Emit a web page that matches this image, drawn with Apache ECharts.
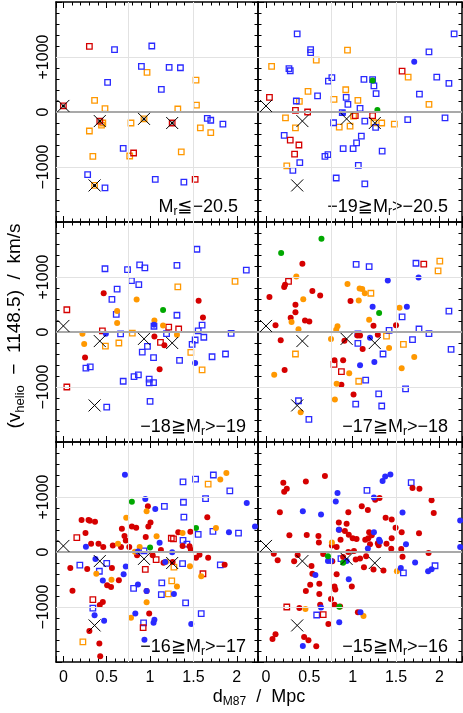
<!DOCTYPE html>
<html>
<head>
<meta charset="utf-8">
<script src="https://cdn.jsdelivr.net/npm/echarts@6/dist/echarts.min.js"></script>
<style>
    html, body { margin: 0; padding: 0; background: #fff; }
    #main { width: 463px; height: 713px; }
</style>
</head>
<body>
<div id="main"></div>
<script>
// giant ellipticals (drawn as X in every panel)
const giants = [[0, 110], [0.42, -165], [0.93, -125], [1.255, -200], [0.36, -1335]];

// panel 1: M_r <= -20.5
const p1RedSquares = [[0.30, 1195], [0.81, -745], [1.52, -1225], [0, 110], [0.42, -165], [1.255, -200]];
const p1OrangeSquares = [[0.965, 720], [1.53, 580], [0.36, 210], [0.48, 60], [1.32, 55], [1.535, 125], [0.455, -200], [0.44, -240],
    [0.78, -200], [0.30, -345], [1.58, -290], [1.70, -375], [1.36, -725], [0.34, -805], [0.765, -800], [0.36, -1335], [0.93, -125]];
const p1BlueSquares = [[0.59, 1135], [1.02, 1200], [0.90, 830], [1.22, 810], [1.35, 805], [0.51, 540], [1.13, 410], [1.66, -115],
    [1.70, -150], [1.84, -220], [0.69, -660], [0.28, -1140], [1.06, -1225], [1.39, -1275], [0.48, -1380]];

// panel 2: -19 >= M_r > -20.5
const p2RedSquares = [[0.04, 265], [0.34, 30], [0.48, 0], [0.28, -510], [0.38, -600], [0.33, -765], [1.03, -65], [1.23, -65], [1.57, 745]];
const p2OrangeSquares = [[0.065, 830], [0.58, 945], [0.94, 1125], [0.485, 375], [0.385, 195], [0.785, 230], [0.92, 405], [1.06, 210],
    [1.64, 635], [1.88, 140], [0.225, -105], [0.34, -290], [0.845, -275], [0.97, -255], [1.01, -75], [1.245, -195], [1.335, -200],
    [1.48, -220], [0.24, -980]];
const p2BlueSquares = [[0.36, 1420], [0.515, 1135], [0.515, 1080], [0.265, 790], [0.28, 750], [0.72, 560], [0.76, 625], [2.17, 1420],
    [1.88, 1095], [1.97, 635], [2.11, 520], [1.77, 325], [1.23, 590], [1.245, 475], [1.27, 335], [1.13, 595], [0.595, 295], [0.35, 200],
    [0.925, 265], [0.945, 140], [1.085, 65], [0.88, -10], [0.78, -195], [1.14, -165], [1.265, -280], [1.635, -140], [2.065, -105],
    [0.21, -425], [1.10, -440], [1.045, -560], [0.89, -665], [1.005, -665], [1.34, -710], [0.715, -775], [0.68, -805], [0.39, -920],
    [0.31, -1060], [1.065, -970], [0.81, -1200], [1.14, -1305]];
const p2BlueDots = [[1.71, 915], [0.89, -20]];
const p2GreenDots = [[1.23, 575], [1.285, 35]];

// panel 3: -18 >= M_r > -19
const p3RedSquares = [[0.04, 405], [0.04, -1000], [0.45, 20], [1.215, 90], [1.33, 55], [1.12, -190]];
const p3OrangeSquares = [[1.98, 920], [1.32, 820], [0.795, -20], [0.485, -255], [0.64, -200], [1.47, -370], [1.60, -690]];
const p3BlueSquares = [[1.54, 1505], [0.48, 1150], [0.74, 1135], [0.88, 1220], [0.94, 1165], [1.31, 1210], [2.11, 1125], [0.785, 935],
    [0.87, 860], [0.62, 780], [0.56, 595], [0.61, 320], [1.31, 305], [0.66, -35], [1.19, -30], [1.60, 125], [1.555, 20], [1.62, -95],
    [1.52, -145], [1.485, -225], [1.935, -25], [0.97, -260], [0.91, -365], [1.04, -465], [1.34, -515], [1.715, -450], [1.87, -400],
    [0.26, -655], [0.31, -635], [0.69, -895], [0.815, -810], [0.865, -780], [0.99, -855], [0.99, -925], [1.04, -920], [1.00, -1260],
    [0.50, -1365], [1.045, 105]];
const p3RedDots = [[0.465, 705], [1.56, 570], [1.61, 265], [0.25, -465], [1.05, -80], [1.165, -240], [1.11, -675]];
const p3OrangeDots = [[0.845, 590], [0.62, 380], [0.62, 165], [0.22, -30], [0.24, -220], [1.05, 210], [1.15, 120], [1.31, -50]];
const p3BlueDots = [[0.49, -30], [1.045, 130], [1.52, -565]];
const p3GreenDots = [[1.15, 400]];

// panel 4: -17 >= M_r > -18
const p4RedSquares = [[1.82, 1235], [0.26, 920], [0.785, -590], [0.87, -720]];
const p4OrangeSquares = [[2.005, 1290], [1.985, 1110], [1.21, 705], [1.39, -75], [1.585, -225], [0.34, -400], [1.07, -895]];
const p4BlueSquares = [[1.04, 1230], [1.19, 1190], [1.73, 1250], [2.11, 380], [2.135, -315], [1.57, 275], [1.42, 30], [1.765, 55],
    [1.88, -30], [1.69, -140], [1.06, -35], [1.06, -205], [1.35, -400], [1.15, -875], [1.30, -1125], [1.61, -1035], [1.035, -1310],
    [1.335, -1345], [0.375, -1250], [0.495, -1590]];
const p4RedDots = [[0.42, 1240], [0.21, 820], [0.22, 860], [0.04, 635], [0.535, 745], [0.625, 665], [0.34, 495], [0.34, 360],
    [0.285, 260], [0.45, 210], [0.50, 190], [0.11, 125], [0.17, -150], [0.215, -690], [0.975, 565], [1.24, 115], [1.50, 125],
    [1.29, -50], [1.085, -65], [1.055, -65], [0.905, -160], [1.115, -310], [0.89, -515], [0.79, -515], [0.87, -960], [1.01, -1135]];
const p4OrangeDots = [[0.35, 1010], [0.43, 595], [0.295, 180], [0.375, 50], [0.94, 875], [1.08, 790], [1.11, 780], [1.14, 705],
    [1.07, 575], [1.19, 225], [0.825, 105], [0.75, -125], [0.81, 40], [1.54, 440], [1.42, -290], [1.71, -455], [1.565, -660],
    [0.095, -775], [0.96, -750], [0.815, -940], [0.795, -1225], [0.40, -1460]];
const p4BlueDots = [[1.405, 935], [1.76, 990], [1.23, 460], [1.625, 460], [1.20, -105], [1.085, -605], [1.25, -545]];
const p4GreenDots = [[0.64, 1695], [0.175, 1435], [1.305, 345]];

// panel 5: -16 >= M_r > -17
const p5RedSquares = [[0.155, 260], [1.245, 250], [1.27, 240], [1.07, -140], [0.945, -315], [1.61, -395], [0.34, -865], [0.92, -1375]];
const p5OrangeSquares = [[1.67, 1235], [1.25, -525], [1.21, -760], [1.275, -275], [0.225, -1635]];
const p5BlueSquares = [[1.38, 1275], [1.525, 1325], [1.73, 1400], [1.92, 1110], [1.64, 970], [1.385, 905], [1.39, 635], [1.165, 830],
    [1.725, 375], [2.02, 345], [1.555, 320], [1.38, 210], [1.425, 145], [0.93, 20], [1.375, -210], [1.81, -235], [0.19, -240],
    [0.415, -350], [0.50, -205], [0.81, -660], [1.135, -560], [1.13, -775], [1.41, -925], [1.59, -1120], [0.34, -1020], [0.925, -1290]];
const p5RedDots = [[0.21, 580], [0.29, 580], [0.305, 570], [0.365, 550], [0.255, 345], [0.32, 150], [0.405, 150], [0.46, 90],
    [0.57, 120], [0.665, 90], [0.675, 425], [0.79, 465], [0.84, 440], [0.705, 290], [0.72, 210], [0.76, 90], [0.975, 830],
    [1.005, 535], [0.98, 465], [0.95, 275], [1.03, -60], [1.125, 35], [1.155, -195], [1.26, -180], [1.325, 360], [1.465, 370],
    [1.455, 105], [1.47, 40], [1.66, 630], [1.57, -50], [1.53, -105], [1.67, -105], [1.86, -230], [0.08, -290], [0.275, -310],
    [0.56, -290], [0.505, -605], [0.55, -635], [0.64, -515], [0.105, -705], [0.42, -965], [0.455, -910], [0.30, -1435],
    [0.415, -1665], [0.425, -1895], [0.99, -1120], [0.96, -710], [0.85, -60], [1.375, 110]];
const p5OrangeDots = [[1.88, 1435], [1.81, 1320], [0.725, 625], [0.96, 740], [1.76, 435], [1.375, 345], [1.075, 285], [0.63, 150],
    [0.88, 90], [0.825, 5], [1.185, -175], [1.46, -260], [1.59, -440], [0.38, -395], [0.555, -505], [1.31, -625], [0.96, -915],
    [0.78, -1195]];
const p5BlueDots = [[0.71, 1405], [0.945, 965], [1.06, 780], [0.26, 95], [1.11, 170], [1.255, -5], [0.86, 10], [0.37, -125],
    [0.72, -265], [0.695, -405], [0.455, -520], [0.86, -590], [0.96, -710], [1.275, -765], [1.91, 360], [2.115, 890], [2.21, 465],
    [0.36, -1150], [0.47, -1250], [0.83, -1120], [1.05, -1230], [1.04, -1285], [1.475, -1310], [0.935, -1595], [1.175, -180]];
const p5GreenDots = [[0.79, 915], [1.53, 435], [1.00, 80]];

// panel 6: -15 >= M_r > -16
const p6RedSquares = [[0.24, -1000], [0.66, -1140]];
const p6BlueSquares = [[1.675, 1260], [1.165, 1120], [0.865, -120], [0.585, -1145], [1.585, -380], [1.95, -250]];
const p6RedDots = [[0.68, 1380], [0.20, 1260], [0.24, 1150], [0.21, 1095], [0.46, 1280], [0.16, 725], [0.27, 305], [0.47, 310],
    [0.605, 290], [0.61, 175], [0.66, -35], [0.09, -30], [0.135, -150], [0.325, -170], [0.365, -55], [0.525, -255], [0.535, -395],
    [0.51, -595], [0.46, -710], [0.615, -575], [0.615, -765], [0.625, -960], [0.385, -1020], [0.72, -1310], [0.58, -1715],
    [0.49, -1605], [0.44, -1545], [0.075, -1580], [0.11, -1495], [0.855, -990], [0.79, -960], [0.75, -855], [0.80, -680],
    [0.79, -625], [0.815, -405], [0.765, -170], [0.815, 90], [0.76, 120], [0.86, 225], [0.845, 405], [0.84, 535], [0.93, 515],
    [0.91, 380], [0.955, 315], [1.00, 250], [1.045, 235], [1.015, 20], [0.95, 0], [0.89, -90], [1.035, -135], [1.085, -120],
    [0.99, -625], [1.06, -1095], [0.95, 725], [1.105, 830], [1.175, 765], [1.31, 980], [1.26, 950], [1.19, 360], [1.145, 225],
    [1.18, 250], [1.22, 305], [1.20, 140], [1.155, -75], [1.13, -275], [1.24, -320], [1.355, -335], [1.38, 625], [1.45, 590],
    [1.495, 440], [1.565, 360], [1.45, 250], [1.445, 60], [1.39, 150], [1.29, 160], [1.56, 55], [1.575, -85], [1.69, 1165],
    [1.77, 1150], [1.765, 340], [1.875, -20], [1.91, 940], [1.935, 710], [1.30, 125]];
const p6OrangeDots = [[0.76, 175], [1.51, -350], [0.455, -1035], [1.125, -1165]];
const p6BlueDots = [[1.435, 1410], [1.375, 1375], [1.345, 1290], [0.825, 1075], [0.805, 920], [1.245, 990], [0.425, 740],
    [0.635, 680], [0.84, 405], [1.245, 360], [1.305, 225], [1.315, 190], [1.175, 65], [0.715, -165], [0.75, -165], [0.93, -165],
    [0.57, -420], [0.955, -495], [1.575, 720], [1.615, 140], [1.72, -190], [1.555, -290], [1.87, -350], [1.91, -315],
    [0.635, -1010], [0.845, -1275], [1.09, -1095], [0.425, -1710], [2.24, 575], [2.24, 90]];
const p6GreenDots = [[0.715, -75], [0.89, -195], [0.845, -995]];

const panelLabels = [
    '{t|M}{s|r}{t|≦−20.5}',
    '{t|−19≧M}{s|r}{t|>−20.5}',
    '{t|−18≧M}{s|r}{t|>−19}',
    '{t|−17≧M}{s|r}{t|>−18}',
    '{t|−16≧M}{s|r}{t|>−17}',
    '{t|−15≧M}{s|r}{t|>−16}'
];
const xTickLabels = [0, 0.5, 1, 1.5, 2];
const yTickLabels = {'-1000': '−1000', '0': '0', '1000': '+1000'};

const FONT = '"Liberation Sans", "DejaVu Sans", sans-serif';
const RED = '#d50000', ORANGE = '#ff9800', BLUE = '#2a2aff', GREEN = '#00a800';

const panels = [
    {sq: [[p1OrangeSquares, ORANGE], [p1BlueSquares, BLUE], [p1RedSquares, RED]], dots: []},
    {sq: [[p2OrangeSquares, ORANGE], [p2BlueSquares, BLUE], [p2RedSquares, RED]], dots: [[p2BlueDots, BLUE], [p2GreenDots, GREEN]]},
    {sq: [[p3OrangeSquares, ORANGE], [p3BlueSquares, BLUE], [p3RedSquares, RED]],
        dots: [[p3RedDots, RED], [p3OrangeDots, ORANGE], [p3BlueDots, BLUE], [p3GreenDots, GREEN]]},
    {sq: [[p4OrangeSquares, ORANGE], [p4BlueSquares, BLUE], [p4RedSquares, RED]],
        dots: [[p4RedDots, RED], [p4OrangeDots, ORANGE], [p4BlueDots, BLUE], [p4GreenDots, GREEN]]},
    {sq: [[p5OrangeSquares, ORANGE], [p5BlueSquares, BLUE], [p5RedSquares, RED]],
        dots: [[p5RedDots, RED], [p5OrangeDots, ORANGE], [p5BlueDots, BLUE], [p5GreenDots, GREEN]]},
    {sq: [[p6BlueSquares, BLUE], [p6RedSquares, RED]],
        dots: [[p6RedDots, RED], [p6OrangeDots, ORANGE], [p6BlueDots, BLUE], [p6GreenDots, GREEN]]}
];

const PX_PER_MPC = 86.7;
const richText = {
    t: {fontSize: 18, fontFamily: FONT, fill: '#000', verticalAlign: 'middle', lineHeight: 22},
    s: {fontSize: 12, fontFamily: FONT, fill: '#000', verticalAlign: 'bottom', lineHeight: 22}
};
const richTitle = {
    t: {fontSize: 19, fontFamily: FONT, fill: '#000', verticalAlign: 'middle', lineHeight: 24},
    s: {fontSize: 13, fontFamily: FONT, fill: '#000', verticalAlign: 'bottom', lineHeight: 24}
};

let grids = [], xAxes = [], yAxes = [], series = [], graphics = [];

function xAxis(i, pos, min, max, showLabel) {
    return {
        type: 'value', gridIndex: i, position: pos, min: min, max: max, splitNumber: 5,
        axisLine: {show: true, onZero: false, lineStyle: {color: '#000', width: 1.5}},
        axisTick: {show: true, inside: true, length: 6, lineStyle: {color: '#000', width: 1}},
        minorTick: {show: true, splitNumber: 5, length: 3.5, lineStyle: {color: '#000', width: 1}},
        splitLine: {show: false},
        axisLabel: {
            show: showLabel, margin: 8, fontSize: 16, color: '#000', fontFamily: FONT,
            formatter: function (v) {
                let hit = xTickLabels.find(t => Math.abs(t - v) < 1e-6);
                return hit === undefined ? '' : String(hit);
            }
        }
    };
}

function yAxis(i, pos, showLabel) {
    return {
        type: 'value', gridIndex: i, position: pos, min: -2000, max: 2000, interval: 1000,
        axisLine: {show: true, onZero: false, lineStyle: {color: '#000', width: 1.5}},
        axisTick: {show: true, inside: true, length: 6, lineStyle: {color: '#000', width: 1}},
        minorTick: {show: true, splitNumber: 5, length: 3.5, lineStyle: {color: '#000', width: 1}},
        splitLine: {show: false},
        axisLabel: {
            show: showLabel, rotate: 90, margin: 4, fontSize: 16, color: '#000', fontFamily: FONT,
            formatter: function (v) {
                return yTickLabels[String(v)] || '';
            }
        }
    };
}

panels.forEach((p, i) => {
    const col = i % 2, row = Math.floor(i / 2);
    const left = col === 0 ? 56 : 258;
    const width = col === 0 ? 202 : 204;
    const top = 2 + row * 220;
    const xmin = col === 0 ? -0.085 : -0.092;
    const xmax = xmin + width / PX_PER_MPC;
    grids.push({left: left, top: top, width: width, height: 220, outerBoundsMode: 'none'});
    xAxes.push(xAxis(i, 'bottom', xmin, xmax, row === 2));
    xAxes.push(xAxis(i, 'top', xmin, xmax, false));
    yAxes.push(yAxis(i, 'left', col === 0));
    yAxes.push(yAxis(i, 'right', false));

    const ax = {xAxisIndex: 2 * i, yAxisIndex: 2 * i, silent: true, animation: false};
    // reference lines
    const thin = {color: '#e2e2e2', width: 1, type: 'solid'};
    series.push(Object.assign({
        type: 'scatter', data: [], z: 1,
        markLine: {
            silent: true, symbol: 'none', animation: false, label: {show: false},
            data: [
                {xAxis: 0.75, lineStyle: thin}, {xAxis: 1.5, lineStyle: thin},
                {yAxis: 1000, lineStyle: thin}, {yAxis: -1000, lineStyle: thin},
                {yAxis: 0, lineStyle: {color: '#a9a9a9', width: 2, type: 'solid'}}
            ]
        }
    }, ax));
    p.sq.forEach(([data, color]) => {
        series.push(Object.assign({
            type: 'scatter', data: data, symbol: 'rect', symbolSize: 5.5, z: 3,
            itemStyle: {color: 'rgba(255,255,255,0)', borderColor: color, borderWidth: 1.3, opacity: 1}
        }, ax));
    });
    p.dots.forEach(([data, color]) => {
        series.push(Object.assign({
            type: 'scatter', data: data, symbol: 'circle', symbolSize: 6, z: 4,
            itemStyle: {color: color, opacity: 1}
        }, ax));
    });
    if (i === 0) {
        series.push(Object.assign({
            type: 'scatter', data: giants, symbol: 'circle', symbolSize: 3, z: 5,
            itemStyle: {color: '#000', opacity: 1}
        }, ax));
    }
    series.push(Object.assign({
        type: 'scatter', data: giants, symbol: 'path://M0,0L10,10M10,0L0,10', symbolSize: 12, z: 6,
        itemStyle: {color: 'none', borderColor: '#000', borderWidth: 1, opacity: 1}
    }, ax));

    graphics.push({
        type: 'text', x: col === 0 ? (row === 0 ? 238 : 246) : 448, y: top + 205,
        style: {text: panelLabels[i], rich: richText, align: 'right', verticalAlign: 'middle', fill: '#000'}
    });
});

graphics.push({
    type: 'text', x: 15, y: 326, rotation: Math.PI / 2,
    style: {text: '{t|(v}{s|helio}{t|  −  1148.5)  /  km/s}', rich: richTitle, align: 'center', verticalAlign: 'middle', fill: '#000'}
});
graphics.push({
    type: 'text', x: 259, y: 697,
    style: {text: '{t|d}{s|M87}{t|  /  Mpc}', rich: richText, align: 'center', verticalAlign: 'middle', fill: '#000'}
});

const chart = echarts.init(document.getElementById('main'), null, {renderer: 'canvas'});
let option = {
    animation: false,
    backgroundColor: '#fff',
    grid: grids,
    xAxis: xAxes,
    yAxis: yAxes,
    series: series,
    graphic: graphics
};
chart.setOption(option);
</script>
</body>
</html>
